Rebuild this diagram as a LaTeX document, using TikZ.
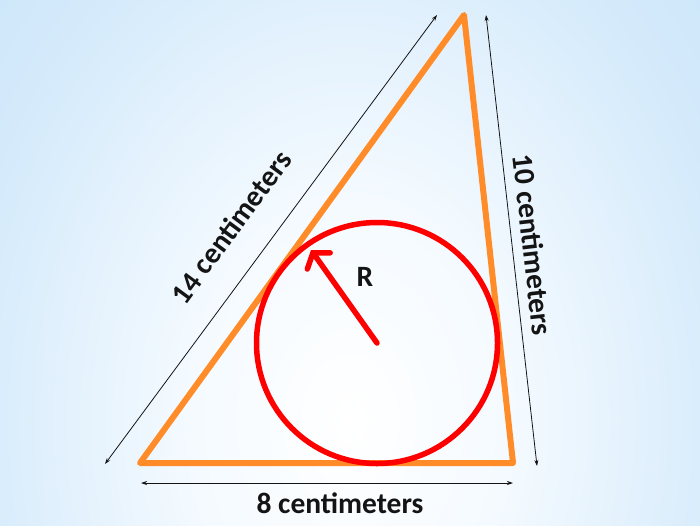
\documentclass[tikz,border=0pt]{standalone}
\usepackage{fontspec}
\setmainfont{Carlito}
\usetikzlibrary{arrows.meta}
\definecolor{triorange}{RGB}{255,140,40}
\definecolor{circred}{RGB}{255,0,0}
\definecolor{txtblack}{RGB}{20,20,20}
\definecolor{bgA}{RGB}{244,250,255}
\definecolor{bgB}{RGB}{214,235,251}
\definecolor{bgC}{RGB}{192,224,249}
\definecolor{bgD}{RGB}{172,213,247}
\definecolor{bgE}{RGB}{162,208,245}
\definecolor{bgbase}{RGB}{205,230,250}
\pgfdeclareradialshading{bgshade}{\pgfpoint{0bp}{0bp}}{%
  color(0bp)=(white);
  color(9bp)=(bgA);
  color(21bp)=(bgB);
  color(35bp)=(bgC);
  color(45bp)=(bgD);
  color(72bp)=(bgE)}
\begin{document}
\begin{tikzpicture}[x=1pt,y=-1pt,
  dimline/.style={draw=txtblack,line width=0.8pt,{Stealth[length=6pt,width=4pt]}-{Stealth[length=6pt,width=4pt]}},
  lbl/.style={font=\bfseries\fontsize{29.5}{31}\selectfont,text=txtblack,inner sep=0pt}]
\useasboundingbox (0,0) rectangle (700,525);
\begin{scope}
\clip (0,0) rectangle (700,525);
\fill[bgbase] (0,0) rectangle (700,525);
\shade[shading=bgshade] (-100,-200) rectangle (800,1040);
\end{scope}
% triangle
\coordinate (A) at (140,463);
\coordinate (B) at (464,15);
\coordinate (C) at (513,463);
\draw[triorange,line width=6pt,line join=round,line cap=round] (A) -- (B) -- (C) -- cycle;
% incircle
\coordinate (O) at (377,343);
\draw[circred,line width=5.5pt] (O) circle[radius=120.5];
\coordinate (T) at (311,250);
\draw[circred,line width=5.5pt,line cap=round,-{Straight Barb[length=10pt,width=28pt,line cap=round]}] (O) -- (T);
\node[lbl] (R) at (365,277) {R};
% dimension lines
\coordinate (d1a) at (105,464);
\coordinate (d1b) at (437,15);
\coordinate (d2a) at (486,15);
\coordinate (d2b) at (537,466);
\coordinate (d3a) at (141,483);
\coordinate (d3b) at (513,483);
\draw[dimline] (d1a) -- (d1b);
\draw[dimline] (d2a) -- (d2b);
\draw[dimline] (d3a) -- (d3b);
\node[lbl,rotate=53.5] (L14) at (231,227) {14 centimeters};
\node[lbl,rotate=-83.5] (L10) at (533,245) {10 centimeters};
\node[lbl] (L8) at (340,503) {8 centimeters};
\end{tikzpicture}
\end{document}
